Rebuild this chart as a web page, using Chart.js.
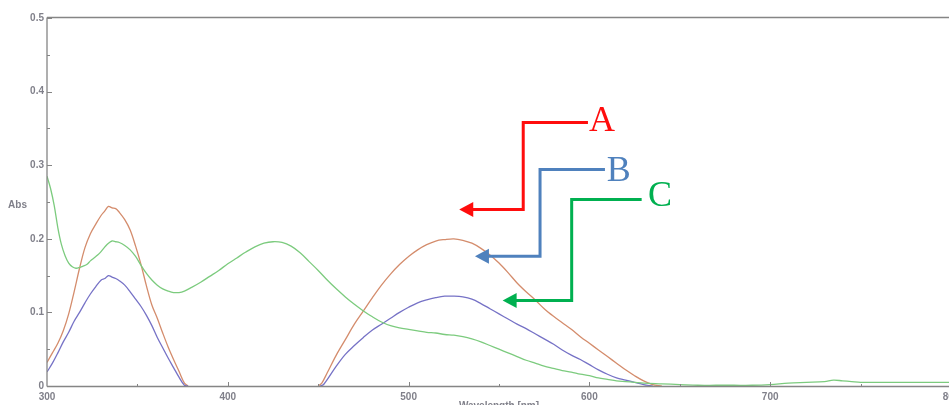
<!DOCTYPE html>
<html>
<head>
<meta charset="utf-8">
<title>Absorption spectra</title>
<script src="https://cdn.jsdelivr.net/npm/chart.js@4.4.1/dist/chart.umd.min.js"></script>
<style>
  html, body { margin: 0; padding: 0; background: #ffffff; overflow: hidden; }
  #wrap { width: 949px; height: 405px; overflow: hidden; }
  canvas { display: block; }
</style>
</head>
<body>
<div id="wrap"><canvas id="spec" width="951" height="405"></canvas></div>
<script>
// Wavelength (nm) and absorbance values for each spectrum (null = no signal, line broken)
const orangeNm = [300,303,306,309,312,315,318,321,324,327,330,332,334,336,338,340,343,346,349,352,355,358,361,364,367,370,373,376,378,
  414,
  450,452,455,460,465,470,475,480,485,490,495,500,505,510,515,520,525,530,535,540,545,550,555,560,565,570,575,580,585,590,595,600,605,610,615,620,625,630,635,640];
const orangeAbs = [0.032,0.045,0.058,0.075,0.098,0.128,0.160,0.188,0.207,0.220,0.232,0.238,0.244,0.242,0.241,0.236,0.226,0.212,0.190,0.165,0.136,0.110,0.092,0.072,0.053,0.036,0.020,0.004,0,
  null,
  0,0.004,0.018,0.042,0.063,0.084,0.102,0.120,0.137,0.152,0.165,0.176,0.185,0.192,0.197,0.199,0.200,0.198,0.194,0.187,0.178,0.167,0.154,0.140,0.128,0.117,0.105,0.095,0.086,0.077,0.067,0.058,0.049,0.040,0.031,0.022,0.014,0.007,0.002,0];

const violetNm = [300,303,306,309,312,315,318,321,324,327,330,332,334,336,338,340,343,346,349,352,355,358,361,364,367,370,373,376,378,
  414,
  451,453,460,465,470,475,480,485,490,495,500,505,510,515,520,525,530,535,540,545,550,555,560,565,570,575,580,585,590,595,600,605,610,615,620,625,630,635];
const violetAbs = [0.019,0.031,0.045,0.060,0.073,0.088,0.100,0.113,0.125,0.135,0.144,0.146,0.150,0.148,0.146,0.143,0.137,0.128,0.118,0.108,0.096,0.082,0.066,0.052,0.038,0.025,0.012,0.001,0,
  null,
  0,0.002,0.027,0.043,0.055,0.066,0.076,0.084,0.092,0.100,0.107,0.113,0.117,0.120,0.122,0.122,0.121,0.118,0.112,0.105,0.098,0.091,0.084,0.078,0.071,0.064,0.057,0.049,0.042,0.036,0.029,0.022,0.016,0.011,0.008,0.005,0.002,0];

const greenNm = [300,302,304,306,308,310,312,314,316,318,320,322,324,326,328,330,332,334,336,338,340,343,346,349,352,355,358,361,364,367,370,373,376,380,385,390,395,400,405,410,415,420,425,430,435,440,445,450,455,460,465,470,475,480,485,490,495,500,505,510,515,520,525,530,535,540,545,550,555,560,565,570,575,580,585,590,595,600,605,610,615,620,625,630,640,650,660,670,680,690,700,710,720,730,735,740,745,750,760,780,800];
const greenAbs = [0.285,0.268,0.245,0.215,0.192,0.177,0.167,0.162,0.160,0.161,0.163,0.165,0.170,0.174,0.178,0.183,0.189,0.194,0.197,0.196,0.195,0.191,0.185,0.176,0.164,0.153,0.144,0.137,0.132,0.129,0.127,0.127,0.129,0.134,0.141,0.149,0.157,0.166,0.174,0.182,0.189,0.194,0.196,0.195,0.190,0.181,0.169,0.157,0.144,0.132,0.121,0.111,0.102,0.094,0.087,0.082,0.079,0.077,0.075,0.073,0.072,0.070,0.069,0.067,0.064,0.060,0.055,0.050,0.045,0.040,0.035,0.031,0.027,0.024,0.021,0.019,0.016,0.014,0.011,0.009,0.007,0.006,0.005,0.004,0.003,0.002,0.001,0.001,0.001,0.001,0.002,0.004,0.005,0.006,0.008,0.007,0.006,0.005,0.005,0.005,0.005];

// Axis ticks
const xTickValues = [300, 400, 500, 600, 700, 800];
const xTickLabels = ['300', '400', '500', '600', '700', '800'];
const yTickValues = [0, 0.1, 0.2, 0.3, 0.4, 0.5];
const yTickLabels = ['0', '0.1', '0.2', '0.3', '0.4', '0.5'];

// Callout arrows: label, colour, path in (nm, Abs) from the label end to the arrow tip
const callouts = [
  { text: 'A', color: '#ff0d0d', label: [599.8, 0.346], path: [[599.2, 0.3579], [563.4, 0.3579], [563.4, 0.2398], [528.0, 0.2398]] },
  { text: 'B', color: '#4f81bd', label: [609.6, 0.2783], path: [[608.6, 0.2943], [572.7, 0.2943], [572.7, 0.1762], [536.7, 0.1762]] },
  { text: 'C', color: '#00b050', label: [632.4, 0.2443], path: [[628.9, 0.2534], [590.2, 0.2534], [590.2, 0.1162], [552.0, 0.1162]] }
];

const toPoints = (xs, ys) => xs.map((x, i) => ({ x: x, y: ys[i] }));

const AXIS_COLOR = '#858585';
const LABEL_COLOR = '#80808a';
const TICK_FONT = 'bold 10px "Liberation Sans", Arial, sans-serif';

// Frame, inward tick marks and axis titles
const framePlugin = {
  id: 'frame',
  afterDatasetsDraw(chart) {
    const { ctx, chartArea: a, scales: { x, y } } = chart;
    ctx.save();
    ctx.strokeStyle = AXIS_COLOR;
    ctx.lineWidth = 1.3;
    ctx.beginPath();
    ctx.moveTo(a.left, a.top - 0.5); ctx.lineTo(chart.width, a.top - 0.5);
    ctx.moveTo(a.left, a.top - 0.5); ctx.lineTo(a.left, a.bottom + 0.5);
    ctx.moveTo(a.left, a.bottom + 0.5); ctx.lineTo(chart.width, a.bottom + 0.5);
    ctx.stroke();

    ctx.lineWidth = 1;
    ctx.beginPath();
    for (let v = 0.05; v < 0.5; v += 0.05) {
      const py = Math.round(y.getPixelForValue(v)) + 0.5;
      const major = Math.abs(v * 10 - Math.round(v * 10)) < 1e-6;
      ctx.moveTo(a.left, py); ctx.lineTo(a.left + (major ? 5 : 3), py);
    }
    for (let v = 350; v <= 800; v += 50) {
      const px = Math.round(x.getPixelForValue(v)) + 0.5;
      const major = v % 100 === 0;
      ctx.moveTo(px, a.bottom + 1); ctx.lineTo(px, a.bottom - (major ? 4 : 2));
    }
    ctx.stroke();

    ctx.fillStyle = LABEL_COLOR;
    ctx.font = TICK_FONT;
    ctx.textAlign = 'center';
    ctx.textBaseline = 'middle';
    ctx.fillText('Abs', 17.5, y.getPixelForValue(0.245));
    ctx.textBaseline = 'top';
    ctx.fillText('Wavelength [nm]', x.getPixelForValue(550), a.bottom + 15.5);
    ctx.restore();
  }
};

// Labelled elbow arrows
const calloutPlugin = {
  id: 'callouts',
  afterDraw(chart) {
    const { ctx, scales: { x, y } } = chart;
    ctx.save();
    callouts.forEach(c => {
      const pts = c.path.map(p => [x.getPixelForValue(p[0]), y.getPixelForValue(p[1])]);
      const tip = pts[pts.length - 1];
      const headLen = 14, headHalf = 7.5;
      ctx.strokeStyle = c.color;
      ctx.fillStyle = c.color;
      ctx.lineWidth = 3;
      ctx.lineJoin = 'miter';
      ctx.beginPath();
      ctx.moveTo(pts[0][0], pts[0][1]);
      for (let i = 1; i < pts.length - 1; i++) ctx.lineTo(pts[i][0], pts[i][1]);
      ctx.lineTo(tip[0] + headLen - 1, tip[1]);
      ctx.stroke();
      ctx.beginPath();
      ctx.moveTo(tip[0], tip[1]);
      ctx.lineTo(tip[0] + headLen, tip[1] - headHalf);
      ctx.lineTo(tip[0] + headLen, tip[1] + headHalf);
      ctx.closePath();
      ctx.fill();
      ctx.font = '36px "Liberation Serif", "Times New Roman", serif';
      ctx.textAlign = 'left';
      ctx.textBaseline = 'alphabetic';
      ctx.fillText(c.text, x.getPixelForValue(c.label[0]), y.getPixelForValue(c.label[1]));
    });
    ctx.restore();
  }
};

const lineStyle = { borderWidth: 1.3, pointRadius: 0, fill: false, spanGaps: false, tension: 0.35 };

new Chart(document.getElementById('spec'), {
  type: 'line',
  data: {
    datasets: [
      Object.assign({ label: 'green', data: toPoints(greenNm, greenAbs), borderColor: '#7ccb7e' }, lineStyle),
      Object.assign({ label: 'violet', data: toPoints(violetNm, violetAbs), borderColor: '#7672c6' }, lineStyle),
      Object.assign({ label: 'orange', data: toPoints(orangeNm, orangeAbs), borderColor: '#d48c6c' }, lineStyle)
    ]
  },
  options: {
    responsive: false,
    animation: false,
    events: [],
    layout: { padding: { left: 0, right: 0, top: 18, bottom: 0 } },
    plugins: { legend: { display: false }, tooltip: { enabled: false } },
    scales: {
      x: {
        type: 'linear',
        min: 300, max: 800,
        grid: { display: false, drawTicks: false },
        border: { display: false },
        afterBuildTicks: s => { s.ticks = xTickValues.map(v => ({ value: v })); },
        ticks: {
          autoSkip: false, maxRotation: 0, padding: 5,
          color: LABEL_COLOR,
          font: { family: '"Liberation Sans", Arial, sans-serif', size: 10, weight: 'bold' },
          callback: (v) => xTickLabels[xTickValues.indexOf(v)]
        },
        afterFit: s => { s.height = 19; s.paddingLeft = 0; s.paddingRight = 0; }
      },
      y: {
        type: 'linear',
        min: 0, max: 0.5,
        grid: { display: false, drawTicks: false },
        border: { display: false },
        afterBuildTicks: s => { s.ticks = yTickValues.map(v => ({ value: v })); },
        ticks: {
          autoSkip: false, padding: 3,
          color: LABEL_COLOR,
          font: { family: '"Liberation Sans", Arial, sans-serif', size: 10, weight: 'bold' },
          callback: (v) => yTickLabels[yTickValues.findIndex(t => Math.abs(t - v) < 1e-9)]
        },
        afterFit: s => { s.width = 47; }
      }
    }
  },
  plugins: [framePlugin, calloutPlugin]
});
</script>
</body>
</html>
